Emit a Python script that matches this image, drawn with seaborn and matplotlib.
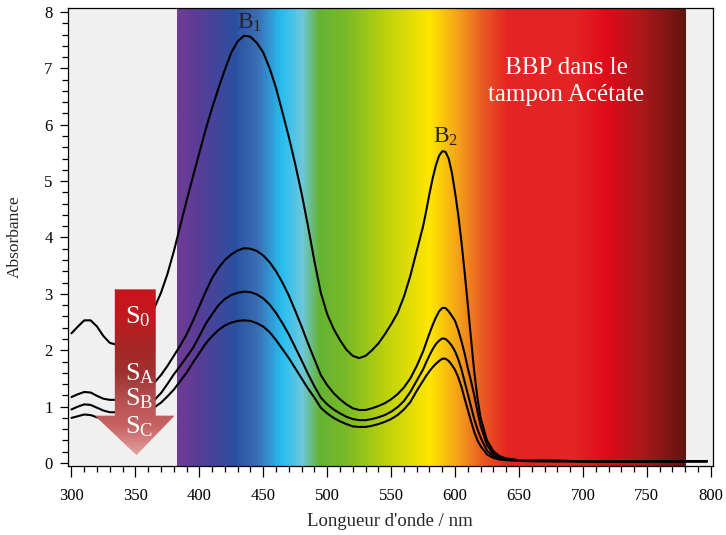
import numpy as np
import pandas as pd
import matplotlib
matplotlib.use("Agg")
import matplotlib.pyplot as plt
import seaborn as sns
from matplotlib.colors import LinearSegmentedColormap
from matplotlib.patches import Polygon
from matplotlib.ticker import MultipleLocator

# ---------------------------------------------------------------------------
# Données (absorbance vs longueur d'onde)
# ---------------------------------------------------------------------------

wavelength = [300, 305, 310, 315, 320, 325, 330, 335, 340, 350, 360,
              365, 370, 375, 380, 385, 390, 395, 400, 405, 410, 415, 420, 425, 430,
              435, 440, 445, 450, 455, 460, 465, 470, 475, 480, 485, 490, 495, 500,
              505, 510, 515, 520, 525, 530, 535, 540, 545, 550, 555, 560, 565, 570,
              575, 577.5, 580, 582.5, 585, 587.5, 590, 592.5, 595, 597.5, 600, 602.5,
              605, 607.5, 610, 612.5, 615, 617.5, 620,
              625, 630, 635, 640, 650, 660, 680, 700, 750, 797]

s0 = [2.30, 2.42, 2.53, 2.53, 2.42, 2.25, 2.13, 2.10, 2.12, 2.25, 2.52,
      2.76, 3.02, 3.35, 3.75, 4.20, 4.65, 5.08, 5.50, 5.92, 6.30, 6.65, 6.98, 7.28, 7.48,
      7.58, 7.56, 7.45, 7.28, 7.00, 6.65, 6.22, 5.78, 5.30, 4.78, 4.20, 3.58, 3.02, 2.64,
      2.38, 2.18, 2.01, 1.90, 1.86, 1.90, 2.00, 2.12, 2.28, 2.46, 2.66, 2.95, 3.32, 3.76,
      4.20, 4.48, 4.78, 5.05, 5.28, 5.45, 5.53, 5.52, 5.40, 5.15, 4.80, 4.40,
      3.92, 3.38, 2.80, 2.20, 1.62, 1.15, 0.80,
      0.40, 0.21, 0.12, 0.08, 0.05, 0.04, 0.04, 0.03, 0.03, 0.03]

s_a = [1.17, 1.22, 1.26, 1.25, 1.19, 1.14, 1.12, 1.12, 1.14, 1.20, 1.33,
       1.43, 1.56, 1.72, 1.90, 2.08, 2.28, 2.52, 2.78, 3.04, 3.28, 3.46, 3.60, 3.70, 3.77,
       3.81, 3.80, 3.76, 3.68, 3.56, 3.40, 3.20, 2.97, 2.70, 2.42, 2.12, 1.84, 1.56, 1.38,
       1.24, 1.13, 1.04, 0.97, 0.94, 0.94, 0.97, 1.01, 1.06, 1.13, 1.22, 1.34, 1.50, 1.72,
       1.98, 2.14, 2.30, 2.45, 2.58, 2.69, 2.75, 2.75, 2.69, 2.61, 2.52, 2.36,
       2.16, 1.94, 1.68, 1.45, 1.20, 0.92, 0.66,
       0.32, 0.16, 0.10, 0.07, 0.05, 0.04, 0.04, 0.03, 0.03, 0.03]

s_b = [0.95, 1.00, 1.04, 1.03, 0.98, 0.93, 0.90, 0.90, 0.92, 0.97, 1.06,
       1.12, 1.24, 1.40, 1.57, 1.72, 1.88, 2.04, 2.25, 2.47, 2.64, 2.80, 2.91, 2.98, 3.02,
       3.04, 3.03, 2.99, 2.92, 2.81, 2.66, 2.48, 2.28, 2.05, 1.82, 1.58, 1.36, 1.16, 1.04,
       0.95, 0.88, 0.82, 0.78, 0.76, 0.76, 0.78, 0.81, 0.85, 0.91, 0.99, 1.10, 1.26, 1.46,
       1.66, 1.79, 1.91, 2.02, 2.11, 2.17, 2.21, 2.20, 2.15, 2.08, 1.98, 1.84,
       1.66, 1.44, 1.22, 1.00, 0.78, 0.60, 0.45,
       0.22, 0.12, 0.08, 0.06, 0.04, 0.04, 0.03, 0.03, 0.03, 0.03]

s_c = [0.80, 0.83, 0.86, 0.85, 0.81, 0.78, 0.76, 0.76, 0.78, 0.84, 0.93,
       0.99, 1.07, 1.18, 1.30, 1.45, 1.60, 1.78, 1.95, 2.12, 2.25, 2.36, 2.44, 2.49, 2.52,
       2.53, 2.52, 2.48, 2.42, 2.32, 2.18, 2.02, 1.86, 1.68, 1.50, 1.32, 1.16, 0.98, 0.88,
       0.80, 0.74, 0.69, 0.65, 0.64, 0.64, 0.66, 0.69, 0.73, 0.78, 0.85, 0.95, 1.08, 1.28,
       1.46, 1.55, 1.63, 1.70, 1.76, 1.81, 1.85, 1.85, 1.81, 1.74, 1.65, 1.52,
       1.35, 1.14, 0.94, 0.74, 0.55, 0.40, 0.30,
       0.15, 0.09, 0.06, 0.05, 0.04, 0.03, 0.03, 0.03, 0.03, 0.03]

series_names = ["S0", "SA", "SB", "SC"]
series_labels = [r"S$_\mathrm{0}$", r"S$_\mathrm{A}$", r"S$_\mathrm{B}$", r"S$_\mathrm{C}$"]

# couleurs du spectre visible (nm, couleur)
spectrum_nm = [382.5, 398, 427, 445, 464, 480, 493, 514, 546, 580, 601, 620, 641, 694, 718, 747, 780]
spectrum_colors = ["#6e3c96", "#5a3c96", "#2a50a0", "#3c6eb4", "#28bef0", "#6ec8dc",
                   "#64b432", "#78b928", "#bed20a", "#ffe600", "#f5a519", "#eb5f23",
                   "#e42424", "#e42424", "#e10a19", "#aa1919", "#64140f"]

# dégradé de la flèche (pointe -> haut)
arrow_colors = ["#e3a0a0", "#c86464", "#b45050", "#a03030", "#a82525", "#c3191e", "#c8141a"]

# ---------------------------------------------------------------------------
# Style
# ---------------------------------------------------------------------------

sns.set_theme(style="ticks")
plt.rcParams.update({
    "font.family": ["Liberation Serif", "DejaVu Serif"],
    "mathtext.fontset": "custom",
    "mathtext.rm": "Liberation Serif",
    "mathtext.it": "Liberation Serif:italic",
    "axes.edgecolor": "black",
    "axes.linewidth": 0.9,
    "xtick.color": "black",
    "ytick.color": "black",
})

df = pd.DataFrame({"wl": wavelength, "S0": s0, "SA": s_a, "SB": s_b, "SC": s_c})
long_df = df.melt(id_vars="wl", value_vars=series_names, var_name="serie", value_name="abs")

fig = plt.figure(figsize=(7.26, 5.35), dpi=100)
ax = fig.add_axes([0.0937, 0.129, 0.888, 0.856])
ax.set_facecolor("#f0f0f0")

xlim = (297.3, 801.5)
ylim = (-0.053, 8.07)

# bande du spectre visible
pos = [(n - spectrum_nm[0]) / (spectrum_nm[-1] - spectrum_nm[0]) for n in spectrum_nm]
cmap_spec = LinearSegmentedColormap.from_list("spec", list(zip(pos, spectrum_colors)))
ax.imshow(np.linspace(0, 1, 600)[None, :], cmap=cmap_spec, aspect="auto",
          extent=[spectrum_nm[0], spectrum_nm[-1], ylim[0], ylim[1]], zorder=0)

# courbes
sns.lineplot(data=long_df, x="wl", y="abs", hue="serie", palette=["black"] * 4,
             estimator=None, sort=False, legend=False, lw=1.5, ax=ax, zorder=2)

# flèche en dégradé
arrow_xy = [(333.9, 3.08), (365.9, 3.08), (365.9, 0.84), (380.7, 0.84),
            (350.8, 0.14), (318.3, 0.84), (333.9, 0.84)]
arrow = Polygon(arrow_xy, closed=True, facecolor="none", edgecolor="none", zorder=3)
ax.add_patch(arrow)
cmap_arrow = LinearSegmentedColormap.from_list("arrow", arrow_colors)
grad = ax.imshow(np.linspace(0, 1, 300)[:, None], cmap=cmap_arrow, aspect="auto",
                 origin="lower", extent=[318.3, 380.7, 0.14, 3.08], zorder=3)
grad.set_clip_path(arrow)

# étiquettes S dans la flèche
for lab, y in zip(series_labels, [2.48, 1.47, 1.03, 0.53]):
    ax.text(341.5, y, lab, color="white", fontsize=19, ha="left", va="baseline", zorder=4)

# bandes B1 / B2
ax.text(439.2, 7.71, r"B$_\mathrm{1}$", fontsize=17, ha="center", va="baseline", zorder=4)
ax.text(593, 5.69, r"B$_\mathrm{2}$", fontsize=17, ha="center", va="baseline", zorder=4)

ax.text(687, 6.77, "BBP dans le\ntampon Acétate", color="white", fontsize=18,
        ha="center", va="center", linespacing=1.3, zorder=4)

# axes
ax.set_xlim(*xlim)
ax.set_ylim(*ylim)
ax.xaxis.set_major_locator(MultipleLocator(50))
ax.xaxis.set_minor_locator(MultipleLocator(10))
ax.yaxis.set_major_locator(MultipleLocator(1))
ax.yaxis.set_minor_locator(MultipleLocator(0.2))
ax.tick_params(axis="x", which="major", direction="out", length=8, width=0.9,
               labelsize=12, pad=8)
ax.tick_params(axis="x", which="minor", direction="out", length=4.5, width=0.9)
ax.tick_params(axis="y", which="major", direction="out", length=6, width=0.9,
               labelsize=12, pad=5)
ax.tick_params(axis="y", which="minor", direction="out", length=4, width=0.9)
ax.tick_params(which="both", top=False, right=False)

ax.set_xlabel("Longueur d'onde / nm", fontsize=13.5)
ax.set_ylabel("Absorbance", fontsize=12.5)
ax.xaxis.set_label_coords(0.5, -0.103)
ax.yaxis.set_label_coords(-0.07, 0.5)

fig.savefig("out.png", dpi=100)
